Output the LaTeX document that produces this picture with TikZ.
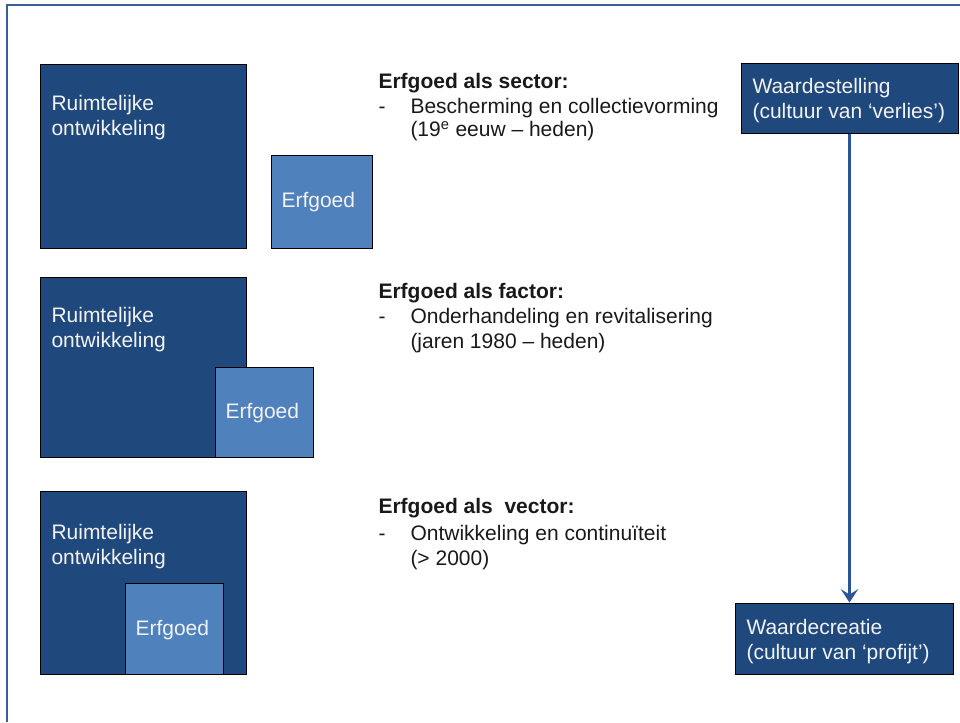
\documentclass[tikz,border=0pt]{standalone}
\usepackage{fontspec}
\setmainfont{Liberation Sans}
\usetikzlibrary{arrows.meta}

\definecolor{darkbox}{RGB}{31,73,125}
\definecolor{lightbox}{RGB}{79,129,189}
\definecolor{framecol}{RGB}{58,95,150}
\definecolor{arrowcol}{RGB}{44,86,145}

\tikzset{every picture/.style={line width=0.75pt},
  bigbox/.style={draw=black, fill=darkbox, inner sep=0pt},
  smallbox/.style={draw=black, fill=lightbox},
  boxtext/.style={anchor=base west, inner sep=0pt, text=white!95!black, align=left,
    font=\fontsize{15.75}{18.75}\selectfont},
  bodytext/.style={anchor=base west, inner sep=0pt, text=black!90, align=left,
    font=\fontsize{15.75}{18.75}\selectfont},
  flowarrow/.style={draw=arrowcol, line width=2.25pt, -{Stealth[length=10pt,width=13pt,inset=4pt]}}
}

\begin{document}
\begin{tikzpicture}[x=0.75pt,y=0.75pt,yscale=-1,xscale=1]
\useasboundingbox (0,0) rectangle (960,722);

%Straight Lines: frame (only top and left are shown)
\draw [color=framecol, line width=1.5] (7,722) -- (7,5) -- (960,5) ;

%Shape: Rectangle -- sector
\draw [bigbox] (40,64) rectangle (246,248) ;
\draw [smallbox] (271,155) rectangle (372,248) ;
%Shape: Rectangle -- factor
\draw [bigbox] (40,277) rectangle (246,457) ;
\draw [smallbox] (215,367) rectangle (313,457) ;
%Shape: Rectangle -- vector
\draw [bigbox] (40,491) rectangle (246,674) ;
\draw [smallbox] (125,583) rectangle (223,674) ;

%Shape: Rectangle -- right column
\node (wst) [bigbox, minimum width=162.75pt, minimum height=52.5pt] at (849.5,98) {};
\node (wcr) [bigbox, minimum width=163.5pt, minimum height=53.25pt] at (844,638.5) {};

%Straight Lines
\draw [flowarrow] (wst.south) -- (wst.south |- wcr.north) ;

% Text Node (base = last line)
\node (ro1) [boxtext] at (51,135) {Ruimtelijke\\ontwikkeling};
\node (ro2) [boxtext] at (51,347) {Ruimtelijke\\ontwikkeling};
\node (ro3) [boxtext] at (51,564) {Ruimtelijke\\ontwikkeling};
% Text Node
\node (eg1) [boxtext] at (281,207) {Erfgoed};
\node (eg2) [boxtext] at (225,418) {Erfgoed};
\node (eg3) [boxtext] at (135,635) {Erfgoed};
% Text Node
\node (wsttxt) [boxtext] at (752,118) {Waardestelling\\(cultuur van `verlies')};
\node (wcrtxt) [boxtext] at (746,659) {Waardecreatie\\(cultuur van `profijt')};

% Text Node
\node (sechd) [bodytext, font=\fontsize{15.75}{18.75}\selectfont\bfseries] at (378,88) {Erfgoed als sector:};
\node (secdash) [bodytext] at (378,113) {-};
\node (secitem) [bodytext] at (410,136) {Bescherming en collectievorming\\[-2pt](19\textsuperscript{e} eeuw -- heden)};
% Text Node
\node (fachd) [bodytext, font=\fontsize{15.75}{18.75}\selectfont\bfseries] at (378,298) {Erfgoed als factor:};
\node (facdash) [bodytext] at (378,323) {-};
\node (facitem) [bodytext] at (410,348) {Onderhandeling en revitalisering\\(jaren 1980 -- heden)};
% Text Node
\node (vechd) [bodytext, font=\fontsize{15.75}{18.75}\selectfont\bfseries] at (378,513) {Erfgoed als\ \ vector:};
\node (vecdash) [bodytext] at (378,540) {-};
\node (vecitem) [bodytext] at (410,565) {Ontwikkeling en continuïteit\\(> 2000)};

\end{tikzpicture}
\end{document}
